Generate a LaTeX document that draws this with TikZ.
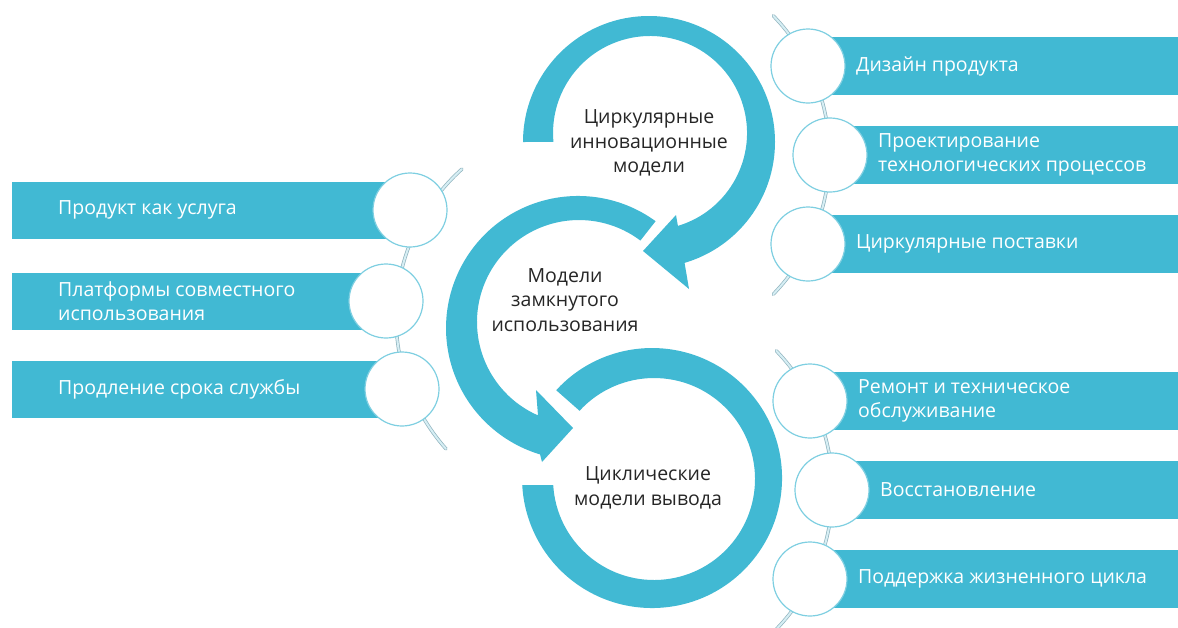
\documentclass[tikz,border=0pt]{standalone}
\usepackage{fontspec}
\setmainfont{Open Sans}
\definecolor{sea}{HTML}{41B9D3}
\definecolor{rim}{HTML}{7ECFE1}
\definecolor{rodline}{HTML}{8FB3BE}
\definecolor{rodfill}{HTML}{D6EEF4}
\begin{document}
\begin{tikzpicture}[x=1pt,y=-1pt,line join=round,line cap=round,font=\fontsize{19.5}{24.5}\selectfont,
	bar/.style={fill=sea},
	dot/.style={circle,draw=rim,line width=1.2pt,fill=white,minimum size=74pt,inner sep=0pt},
	rod/.style={draw=rodline,double=rodfill,line width=0.7pt,double distance=2pt},
	lbl/.style={text=white,anchor=west,align=left,inner sep=0pt},
	mid/.style={text=black!85,align=center}]
	\fill[white] (0,0) rectangle (1178,627);
	\useasboundingbox (0,0) rectangle (1178,627);
	\draw[rod] (629,155)+(-44:200.5) arc[start angle=-44,end angle=44,radius=200.5];
	\draw[rod] (632,490)+(-44:200.5) arc[start angle=-44,end angle=44,radius=200.5];
	\draw[rod] (595,317)+(138.5:199) arc[start angle=138.5,end angle=228,radius=199];
	\foreach \y/\x in {66/808,155/830,244/808}{\fill[bar] (\x,\y-29) rectangle (1178,\y+29); \node[dot] (r\y) at (\x,\y) {};}
	\foreach \y/\x in {401/810,490/832,579/810}{\fill[bar] (\x,\y-29) rectangle (1178,\y+29); \node[dot] (s\y) at (\x,\y) {};}
	\foreach \y/\x in {210/410,301/386,389/402}{\fill[bar] (12,\y-28.5) rectangle (\x,\y+28.5); \node[dot] (l\y) at (\x,\y) {};}
	\fill[sea] (523,142) arc[start angle=180,end angle=433.6,radius=126] -- (689,289) -- (643,251) -- (676,215) -- (677.9,225.9) arc[start angle=433.3,end angle=174.7,radius=97] -- cycle;
	\fill[sea] (655.6,221.2) arc[start angle=-54,end angle=-253.3,radius=132] -- (542,462) -- (573,428) -- (536,390) -- (538,415.4) arc[start angle=-246.3,end angle=-53,radius=102] -- cycle;
	\fill[sea] (556.2,390.2) arc[start angle=222.5,end angle=536.9,radius=130] -- (553.2,485) arc[start angle=536.6,end angle=222.5,radius=101] -- cycle;
	\node[mid] (innov) at (649,143) {Циркулярные\\инновационные\\модели};
	\node[mid] (closed) at (565,300) {Модели\\замкнутого\\использования};
	\node[mid] (cyclic) at (648,488) {Циклические\\модели вывода};
	\node[lbl] (design) at (856,66) {Дизайн продукта};
	\node[lbl] (process) at (878,155) {Проектирование\\технологических процессов};
	\node[lbl] (supply) at (856,244) {Циркулярные поставки};
	\node[lbl] (repair) at (858,401) {Ремонт и техническое\\обслуживание};
	\node[lbl] (restore) at (880,490) {Восстановление};
	\node[lbl] (support) at (858,579) {Поддержка жизненного цикла};
	\node[lbl] (service) at (58,210) {Продукт как услуга};
	\node[lbl] (sharing) at (58,301) {Платформы совместного\\использования};
	\node[lbl] (extend) at (58,389) {Продление срока службы};
\end{tikzpicture}
\end{document}
